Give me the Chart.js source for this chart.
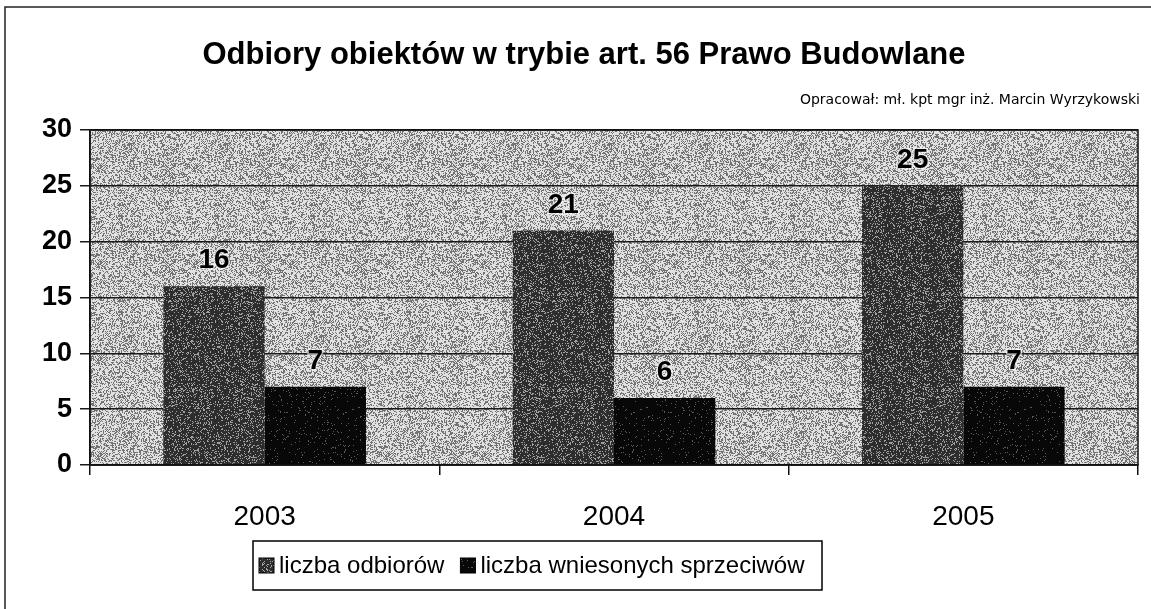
<!DOCTYPE html>
<html>
<head>
<meta charset="utf-8">
<script src="https://cdn.jsdelivr.net/npm/chart.js@4"></script>
<style>
  html, body { margin: 0; padding: 0; background: #ffffff; }
  #wrap { width: 1151px; height: 609px; position: relative; }
</style>
</head>
<body>
<div id="wrap"><canvas id="odbioryChart" width="1151" height="609"></canvas></div>
<script>
const years = ["2003", "2004", "2005"];
const odbiory = [16, 21, 25];
const sprzeciwy = [7, 6, 7];
const yTicks = [0, 5, 10, 15, 20, 25, 30];

const titleText = "Odbiory obiektów w trybie art. 56 Prawo Budowlane";
const authorText = "Opracował: mł. kpt mgr inż. Marcin Wyrzykowski";

// halftone-like speckle texture (fixed hash, so always the same picture)
function speckle(dark, light, share) {
    const cv = document.createElement("canvas");
    cv.width = 96; cv.height = 96;
    const g = cv.getContext("2d");
    const img = g.createImageData(96, 96);
    for (let y = 0; y < 96; y++) {
        for (let x = 0; x < 96; x++) {
            const h = Math.abs(Math.sin(x * 12.9898 + y * 78.233) * 43758.5453) % 1;
            const v = h < share ? light : dark;
            const k = (y * 96 + x) * 4;
            img.data[k] = img.data[k + 1] = img.data[k + 2] = v;
            img.data[k + 3] = 255;
        }
    }
    g.putImageData(img, 0, 0);
    return g.createPattern(cv, "repeat");
}
const bgPattern = speckle(115, 225, 0.6);
const bar1Pattern = speckle(45, 160, 0.2);
const bar2Pattern = speckle(8, 90, 0.04);

// background of plot area, frame, title, legend
const plotBg = {
    id: "plotBg",
    beforeDraw(chart) {
        const c = chart.ctx, a = chart.chartArea;
        c.save();
        c.fillStyle = "#ffffff";
        c.fillRect(0, 0, chart.width, chart.height);
        c.fillStyle = bgPattern;
        c.fillRect(a.left, a.top, a.right - a.left, a.bottom - a.top);
        c.restore();
    },
    afterDraw(chart) {
        const c = chart.ctx, a = chart.chartArea;
        c.save();
        c.strokeStyle = "#111";
        c.lineWidth = 1.5;
        c.strokeRect(a.left, a.top, a.right - a.left, a.bottom - a.top);
        // outer frame (top and left only are visible)
        c.strokeStyle = "#222";
        c.beginPath();
        c.moveTo(5, chart.height);
        c.lineTo(5, 7);
        c.lineTo(chart.width, 7);
        c.stroke();
        // title
        c.fillStyle = "#000";
        c.textAlign = "center";
        c.textBaseline = "middle";
        c.font = "bold 31px 'Liberation Sans', Arial, sans-serif";
        c.fillText(titleText, 584, 55);
        c.textAlign = "right";
        c.font = "14px 'DejaVu Sans', sans-serif";
        c.fillText(authorText, 1140, 100);
        // legend
        const lx = 253, ly = 541, lw = 569, lh = 49;
        c.lineWidth = 1.5;
        c.strokeStyle = "#000";
        c.strokeRect(lx, ly, lw, lh);
        c.font = "24px 'Liberation Sans', Arial, sans-serif";
        c.textAlign = "left";
        let x = lx + 6;
        chart.data.datasets.forEach(ds => {
            c.fillStyle = ds.backgroundColor;
            c.fillRect(x, ly + 17, 15, 15);
            c.strokeStyle = "#000";
            c.lineWidth = 1;
            c.strokeRect(x, ly + 17, 15, 15);
            c.fillStyle = "#000";
            c.fillText(ds.label, x + 20, ly + lh / 2 + 1);
            x += 20 + c.measureText(ds.label).width + 16;
        });
        c.restore();
    }
};

// value labels above bars
const valueLabels = {
    id: "valueLabels",
    afterDatasetsDraw(chart) {
        const c = chart.ctx;
        c.save();
        c.font = "bold 28px 'Liberation Sans', Arial, sans-serif";
        c.textAlign = "center";
        c.textBaseline = "alphabetic";
        c.lineJoin = "round";
        chart.data.datasets.forEach((ds, i) => {
            chart.getDatasetMeta(i).data.forEach((bar, j) => {
                const t = String(ds.data[j]);
                c.strokeStyle = "rgba(255,255,255,0.6)";
                c.lineWidth = 3;
                c.strokeText(t, bar.x, bar.y - 18);
                c.fillStyle = "#000";
                c.fillText(t, bar.x, bar.y - 18);
            });
        });
        c.restore();
    }
};

new Chart(document.getElementById("odbioryChart"), {
    type: "bar",
    data: {
        labels: years,
        datasets: [{
            label: "liczba odbiorów",
            data: odbiory,
            backgroundColor: bar1Pattern,
            borderWidth: 0
        }, {
            label: "liczba wniesonych sprzeciwów",
            data: sprzeciwy,
            backgroundColor: bar2Pattern,
            borderWidth: 0
        }]
    },
    options: {
        responsive: false,
        animation: false,
        layout: {
            padding: { top: 130, left: 10, right: 13, bottom: 0 }
        },
        plugins: {
            legend: { display: false },
            title: { display: false },
            tooltip: { enabled: false }
        },
        datasets: {
            bar: { categoryPercentage: 0.58, barPercentage: 1.0 }
        },
        scales: {
            x: {
                afterFit(scale) { scale.height = 144; },
                grid: {
                    offset: true,
                    drawOnChartArea: false,
                    tickLength: 10,
                    color: "#111",
                    lineWidth: 1.5
                },
                border: { color: "#111", width: 1.5 },
                ticks: {
                    color: "#000",
                    padding: 25,
                    font: { family: "'Liberation Sans', Arial, sans-serif", size: 28 }
                }
            },
            y: {
                min: 0,
                max: 30,
                afterFit(scale) { scale.width = 80; },
                afterBuildTicks(scale) {
                    scale.ticks = yTicks.map(v => ({ value: v }));
                },
                grid: {
                    color: "#1a1a1a",
                    lineWidth: 1.5,
                    tickLength: 10
                },
                border: { color: "#111", width: 1.5 },
                ticks: {
                    color: "#000",
                    padding: 8,
                    font: { family: "'Liberation Sans', Arial, sans-serif", size: 27, weight: "bold" }
                }
            }
        }
    },
    plugins: [plotBg, valueLabels]
});
</script>
</body>
</html>
